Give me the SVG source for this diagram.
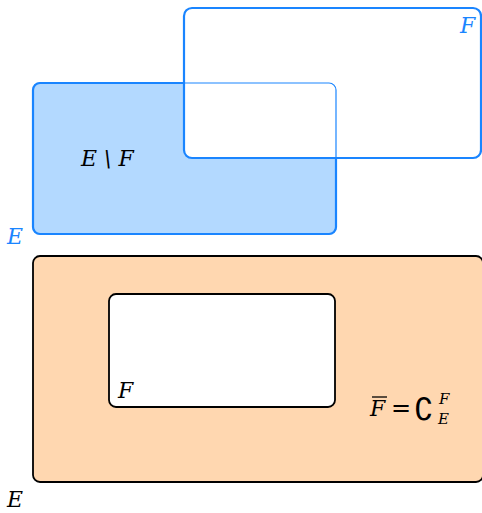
<svg xmlns="http://www.w3.org/2000/svg" width="482" height="513" viewBox="0 0 482 513">
<style>
.t{font-family:"DejaVu Serif",serif;font-style:italic;font-size:22px}
.s{font-family:"DejaVu Serif",serif;font-style:italic;font-size:15px}
.blue{fill:#1a85ff}
.blk{fill:#000}
.thin{fill:none;stroke:#1a85ff;stroke-width:1.2}
.thick{fill:none;stroke:#1a85ff;stroke-width:2.2}
.bk{stroke:#000;stroke-width:1.8}
</style>
<rect width="482" height="513" fill="#fff"/>
<g id="E">
<rect x="33" y="83" width="303" height="151" rx="7" fill="#b3d9ff"/>
</g>
<g id="F">
<rect x="184" y="8" width="297" height="150" rx="8" fill="#fff"/>
</g>
<g id="outlines">
<rect x="33" y="83" width="303" height="151" rx="7" class="thin"/>
<path d="M184 83 H40 A7 7 0 0 0 33 90 V227 A7 7 0 0 0 40 234 H329 A7 7 0 0 0 336 227 V158" class="thick"/>
<rect x="184" y="8" width="297" height="150" rx="8" class="thick"/>
</g>
<text x="460" y="33" class="t blue">F</text>
<text x="7" y="244" class="t blue">E</text>
<text x="81" y="166" class="t blk">E \ F</text>
<g id="CE">
<rect x="33" y="256" width="450" height="226" rx="7" fill="#ffd7b0" class="bk"/>
</g>
<g id="Finner">
<rect x="109" y="294" width="226" height="113" rx="7" fill="#fff" class="bk"/>
</g>
<text x="118" y="398" class="t blk">F</text>
<text x="7" y="507" class="t blk">E</text>
<g id="formula">
<line x1="372" y1="397" x2="387" y2="397" stroke="#000" stroke-width="1.3"/>
<text x="370" y="416" class="t blk">F</text>
<text x="391" y="416" font-family="DejaVu Sans,sans-serif" font-size="24" fill="#000">=</text>
<text x="414" y="420" font-family="DejaVu Serif,serif" font-size="31" fill="#000">∁</text>
<text x="439" y="404" class="s blk">F</text>
<text x="438" y="424" class="s blk">E</text>
</g>
</svg>
